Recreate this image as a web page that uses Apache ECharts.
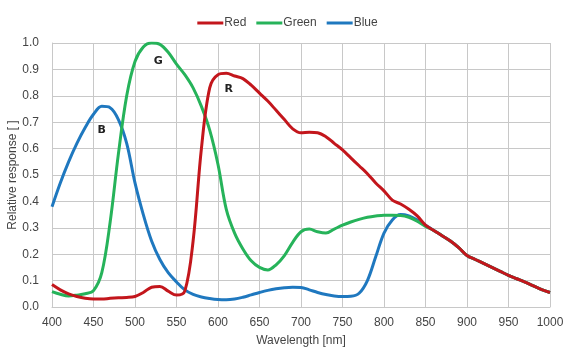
<!DOCTYPE html>
<html>
<head>
<meta charset="utf-8">
<script src="https://cdn.jsdelivr.net/npm/echarts@6/dist/echarts.min.js"></script>
<style>
  html, body { margin: 0; padding: 0; background: #fff; }
  #chart { width: 575px; height: 350px; }
</style>
</head>
<body>
<div id="chart"></div>
<script>
// Wavelength samples (nm), 10 nm steps
const wavelengths = [];
for (let w = 400; w <= 1000; w += 10) wavelengths.push(w);

// Relative spectral response per channel, one value per wavelength sample
const red = [
  0.085, 0.065, 0.05, 0.04, 0.033, 0.03, 0.03, 0.033, 0.035, 0.036,
  0.04, 0.055, 0.075, 0.078, 0.06, 0.045, 0.06, 0.25, 0.6, 0.83,
  0.88, 0.885, 0.875, 0.865, 0.84, 0.81, 0.78, 0.745, 0.71, 0.675,
  0.66, 0.662, 0.66, 0.645, 0.62, 0.595, 0.565, 0.535, 0.505, 0.47,
  0.44, 0.405, 0.39, 0.37, 0.345, 0.31, 0.29, 0.27, 0.25, 0.225,
  0.195, 0.18, 0.165, 0.15, 0.135, 0.12, 0.107, 0.094, 0.08, 0.066,
  0.055
];
const green = [
  0.058, 0.048, 0.042, 0.045, 0.05, 0.062, 0.13, 0.32, 0.58, 0.8,
  0.93, 0.985, 1.0, 0.995, 0.965, 0.92, 0.88, 0.83, 0.76, 0.67,
  0.54, 0.37, 0.28, 0.22, 0.175, 0.15, 0.14, 0.16, 0.195, 0.245,
  0.285, 0.295, 0.285, 0.28, 0.295, 0.31, 0.322, 0.332, 0.34, 0.345,
  0.348, 0.348, 0.347, 0.34, 0.325, 0.305, 0.29, 0.27, 0.25, 0.225,
  0.195, 0.18, 0.165, 0.15, 0.135, 0.12, 0.107, 0.094, 0.08, 0.066,
  0.055
];
const blue = [
  0.38, 0.47, 0.55, 0.62, 0.68, 0.73, 0.76, 0.755, 0.71, 0.62,
  0.47, 0.35, 0.25, 0.18, 0.13, 0.095, 0.065, 0.048, 0.038, 0.032,
  0.028, 0.027, 0.03, 0.037, 0.046, 0.055, 0.063, 0.069, 0.073, 0.075,
  0.074, 0.065, 0.055, 0.047, 0.042, 0.04, 0.041, 0.052, 0.1, 0.19,
  0.28, 0.33, 0.35, 0.345, 0.33, 0.31, 0.29, 0.27, 0.25, 0.225,
  0.195, 0.18, 0.165, 0.15, 0.135, 0.12, 0.107, 0.094, 0.08, 0.066,
  0.055
];

// Channel tags placed inside the plot: [text, wavelength, response]
const tags = [
  ['B', 460, 0.67],
  ['G', 528, 0.93],
  ['R', 613, 0.826]
];

const seriesNames = ['Red', 'Green', 'Blue'];
const seriesColors = ['#c3161c', '#26b35a', '#1f78bf'];
const seriesValues = [red, green, blue];
const tagFor = { Red: 'R', Green: 'G', Blue: 'B' };

const chart = echarts.init(document.getElementById('chart'), null, { renderer: 'canvas' });

const gridLine = { lineStyle: { color: '#c8c8c8', width: 1 } };
const labelFont = { fontFamily: 'Liberation Sans, Arial, sans-serif', fontSize: 12, color: '#444' };

chart.setOption({
  animation: false,
  backgroundColor: '#fff',
  legend: {
    top: 12,
    left: 'center',
    itemWidth: 26,
    itemHeight: 3,
    itemGap: 10,
    icon: 'rect',
    textStyle: { fontFamily: 'Liberation Sans, Arial, sans-serif', fontSize: 12, color: '#444', padding: [0, 0, 0, -4] },
    data: seriesNames
  },
  grid: {
    left: 52, right: 25, top: 43, bottom: 43,
    containLabel: false,
    outerBoundsMode: 'none'
  },
  xAxis: {
    type: 'value',
    min: 400, max: 1000, interval: 50,
    name: 'Wavelength [nm]',
    nameLocation: 'middle',
    nameGap: 28,
    nameMoveOverlap: false,
    nameTextStyle: labelFont,
    axisLine: { show: true, lineStyle: { color: '#c8c8c8' } },
    axisTick: { show: false },
    axisLabel: Object.assign({ margin: 10, formatter: v => String(v) }, labelFont),
    splitLine: Object.assign({ show: true }, gridLine)
  },
  yAxis: {
    type: 'value',
    min: 0, max: 1, interval: 0.1,
    name: 'Relative response [ ]',
    nameLocation: 'middle',
    nameGap: 33,
    nameMoveOverlap: false,
    nameTextStyle: labelFont,
    axisLine: { show: true, lineStyle: { color: '#c8c8c8' } },
    axisTick: { show: false },
    axisLabel: Object.assign({ margin: 13, formatter: v => v.toFixed(1) }, labelFont),
    splitLine: Object.assign({ show: true }, gridLine)
  },
  series: seriesNames.map((name, i) => {
    const tag = tags.find(t => t[0] === tagFor[name]);
    return {
      name,
      type: 'line',
      smooth: 0.35,
      showSymbol: false,
      color: seriesColors[i],
      lineStyle: { width: 3, color: seriesColors[i] },
      data: wavelengths.map((w, k) => [w, seriesValues[i][k]]),
      z: 3 - i,
      markPoint: {
        symbol: 'circle',
        symbolSize: 0,
        silent: true,
        label: {
          show: true,
          position: 'inside',
          formatter: tag[0],
          fontFamily: 'DejaVu Sans, sans-serif',
          fontWeight: 'bold',
          fontSize: 11,
          color: '#222'
        },
        data: [{ coord: [tag[1], tag[2]] }]
      }
    };
  })
});
</script>
</body>
</html>
